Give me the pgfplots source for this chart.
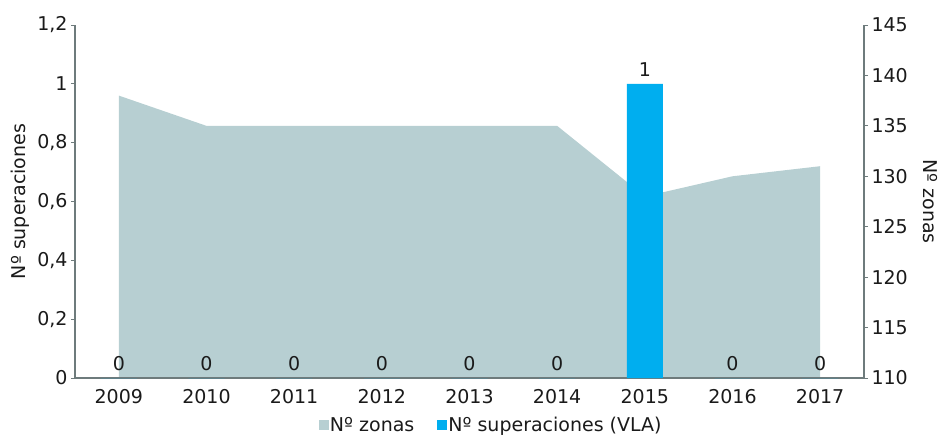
\documentclass[border=0pt]{standalone}
\usepackage{pgfplots}
\pgfplotsset{compat=1.18}
\usepackage{fontspec}
\setmainfont{DejaVu Sans}
\definecolor{zonas}{HTML}{B7CFD2}
\definecolor{barc}{HTML}{00AEEF}
\definecolor{axc}{HTML}{6E7B7C}
\definecolor{txt}{HTML}{1A1A1A}
\newcommand{\fs}{\fontsize{19bp}{23bp}\selectfont}
\begin{document}
\begin{tikzpicture}[font=\fs, text=txt]
\useasboundingbox (-75bp,-63bp) rectangle (868bp,378bp);
% right axis: Nº zonas (area)
\begin{axis}[
  at={(0,0)}, anchor=south west, scale only axis,
  width=789bp, height=353bp,
  xmin=-0.5, xmax=8.5, ymin=110, ymax=145,
  enlargelimits=false,
  axis x line=none, axis y line*=right,
  axis line style={draw=axc, line width=2bp},
  ytick={110,115,120,125,130,135,140,145},
  yticklabels={110,115,120,125,130,135,140,145},
  tick align=outside, major tick length=4bp,
  tick style={draw=axc, line width=0.8bp},
  yticklabel style={font=\fs, text=txt},
]
\addplot[fill=zonas, draw=none] coordinates {
  (0,138) (1,135) (2,135) (3,135) (4,135) (5,135) (6,128) (7,130) (8,131)
} \closedcycle;
\end{axis}
% left axis: Nº superaciones (bars)
\begin{axis}[
  at={(0,0)}, anchor=south west, scale only axis,
  width=789bp, height=353bp,
  xmin=-0.5, xmax=8.5, ymin=0, ymax=1.2,
  enlargelimits=false,
  /pgf/number format/assume math mode=true,
  axis x line*=bottom, axis y line*=left,
  axis line style={draw=axc, line width=2bp},
  xtick={0,1,2,3,4,5,6,7,8},
  xticklabels={2009,2010,2011,2012,2013,2014,2015,2016,2017},
  minor xtick={-0.5,0.5,1.5,2.5,3.5,4.5,5.5,6.5,7.5,8.5},
  xtick style={draw=none},
  minor tick style={draw=axc, line width=0.8bp},
  minor tick length=4bp,
  ytick={0,0.2,0.4,0.6,0.8,1,1.2},
  yticklabels={0,{0,2},{0,4},{0,6},{0,8},1,{1,2}},
  ytick style={draw=axc, line width=0.8bp},
  tick align=outside, major tick length=4bp,
  xticklabel style={font=\fs, text=txt, yshift=-4bp},
  yticklabel style={font=\fs, text=txt},
  legend columns=2,
  legend style={draw=none, fill=none, at={(0.527,-0.133)}, anchor=center,
    font=\fs, text=txt,
    /tikz/every even column/.append style={column sep=22bp},
    nodes={inner xsep=1bp}},
  legend image code/.code={\fill[#1, draw=none] (0bp,-5bp) rectangle (10bp,5bp);},
]
\addlegendimage{fill=zonas, draw=none}
\addlegendentry{Nº zonas}
\addplot[ybar, bar width=36bp, fill=barc, draw=none,
  nodes near coords,
  every node near coord/.append style={font=\fs, text=txt, yshift=4bp}]
  coordinates {(0,0) (1,0) (2,0) (3,0) (4,0) (5,0) (6,1) (7,0) (8,0)};
\addlegendentry{Nº superaciones (VLA)}
\end{axis}
\node[rotate=90] at (-55bp,176.5bp) {Nº superaciones};
\node[rotate=-90] at (855bp,176.5bp) {Nº zonas};
\end{tikzpicture}
\end{document}
